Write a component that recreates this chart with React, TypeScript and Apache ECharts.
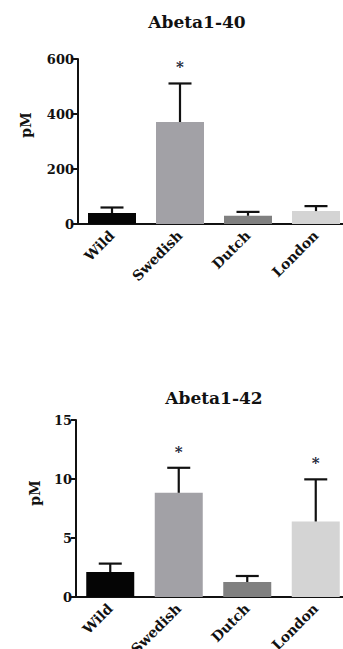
import React, { useEffect, useRef } from "react";
import * as echarts from "echarts";

const categories = ["Wild", "Swedish", "Dutch", "London"];
const barColors = ["#050505", "#a2a1a6", "#808080", "#d4d4d4"];

const abeta40Mean = [40, 371, 30, 47];
const abeta40Sem = [20, 140, 14, 18];
const abeta40Sig = [false, true, false, false];

const abeta42Mean = [2.12, 8.83, 1.27, 6.4];
const abeta42Sem = [0.71, 2.12, 0.51, 3.57];
const abeta42Sig = [false, true, false, true];

const FONT = "DejaVu Serif";

function errData(mean: number[], sem: number[], sig: boolean[]) {
  return mean.map((m, i) => [i, m, m + sem[i], sig[i] ? 1 : 0]);
}

const renderErr = (params: any, api: any) => {
  const base = api.coord([api.value(0), api.value(1)]);
  const top = api.coord([api.value(0), api.value(2)]);
  const x = base[0];
  const cap = 11.5;
  const children: any[] = [
    {
      type: "line",
      shape: { x1: x, y1: base[1], x2: x, y2: top[1] },
      style: { stroke: "#111", lineWidth: 2.2 },
    },
    {
      type: "line",
      shape: { x1: x - cap, y1: top[1], x2: x + cap, y2: top[1] },
      style: { stroke: "#111", lineWidth: 2.2 },
    },
  ];
  if (api.value(3)) {
    children.push({
      type: "text",
      x: x,
      y: top[1] - 16,
      style: {
        text: "*",
        fill: "#1b2638",
        font: `bold 15px "${FONT}"`,
        align: "center",
        verticalAlign: "middle",
      },
    });
  }
  return { type: "group", children };
};

interface PanelProps {
  title: string;
  titleX: number;
  titleTop: number;
  gridLeft: number;
  gridWidth: number;
  gridTop: number;
  gridHeight: number;
  yMax: number;
  yInterval: number;
  nameX: number;
  nameY: number;
  mean: number[];
  sem: number[];
  sig: boolean[];
  height: number;
  top: number;
  labelRotate: number;
}

function Panel(p: PanelProps) {
  const ref = useRef<HTMLDivElement>(null);
  useEffect(() => {
    if (!ref.current) return;
    const chart = echarts.init(ref.current, null, { renderer: "svg" });
    chart.setOption({
      animation: false,
      backgroundColor: "#fff",
      title: {
        text: p.title,
        left: p.titleX,
        top: p.titleTop,
        padding: 0,
        textAlign: "center",
        textStyle: { fontFamily: FONT, fontWeight: "bold", fontSize: 17, color: "#111" },
      },
      grid: {
        left: p.gridLeft,
        width: p.gridWidth,
        top: p.gridTop,
        height: p.gridHeight,
        containLabel: false,
        outerBoundsMode: "none",
      },
      xAxis: {
        type: "category",
        data: categories,
        axisLine: { lineStyle: { color: "#111", width: 2 } },
        axisTick: { alignWithLabel: true, length: 5, lineStyle: { color: "#111", width: 2 } },
        axisLabel: {
          rotate: p.labelRotate,
          interval: 0,
          hideOverlap: false,
          margin: 9,
          color: "#111",
          fontFamily: FONT,
          fontWeight: "bold",
          fontSize: 14,
        },
      },
      yAxis: {
        type: "value",
        min: 0,
        max: p.yMax,
        interval: p.yInterval,
        splitLine: { show: false },
        axisLine: { show: true, lineStyle: { color: "#111", width: 2 } },
        axisTick: { show: true, length: 5, lineStyle: { color: "#111", width: 2 } },
        axisLabel: {
          margin: 4,
          color: "#111",
          fontFamily: FONT,
          fontWeight: "bold",
          fontSize: 13,
        },
      },
      graphic: [
        {
          type: "text",
          x: p.nameX,
          y: p.nameY,
          rotation: Math.PI / 2,
          style: {
            text: "pM",
            font: `bold 14px "${FONT}"`,
            fill: "#111",
            align: "center",
            verticalAlign: "middle",
          },
        },
      ],
      series: [
        {
          type: "bar",
          barWidth: 48,
          data: p.mean.map((v, i) => ({ value: v, itemStyle: { color: barColors[i] } })),
        },
        {
          type: "custom",
          renderItem: renderErr,
          data: errData(p.mean, p.sem, p.sig),
          z: 5,
        },
      ],
    });
    return () => chart.dispose();
  }, []);
  return (
    <div
      ref={ref}
      style={{ position: "absolute", left: 0, top: p.top, width: 343, height: p.height }}
    />
  );
}

export default function App() {
  return (
    <div style={{ position: "absolute", left: 0, top: 0, width: 343, height: 649, background: "#fff" }}>
      <Panel
        title="Abeta1-40"
        titleX={197}
        titleTop={13}
        gridLeft={78}
        gridWidth={272}
        gridTop={59}
        gridHeight={165}
        yMax={600}
        yInterval={200}
        nameX={26}
        nameY={125}
        mean={abeta40Mean}
        sem={abeta40Sem}
        sig={abeta40Sig}
        top={0}
        height={320}
        labelRotate={45}
      />
      <Panel
        title="Abeta1-42"
        titleX={214}
        titleTop={69}
        gridLeft={76}
        gridWidth={274}
        gridTop={100}
        gridHeight={177}
        yMax={15}
        yInterval={5}
        nameX={35}
        nameY={173}
        mean={abeta42Mean}
        sem={abeta42Sem}
        sig={abeta42Sig}
        top={320}
        height={329}
        labelRotate={45}
      />
    </div>
  );
}
